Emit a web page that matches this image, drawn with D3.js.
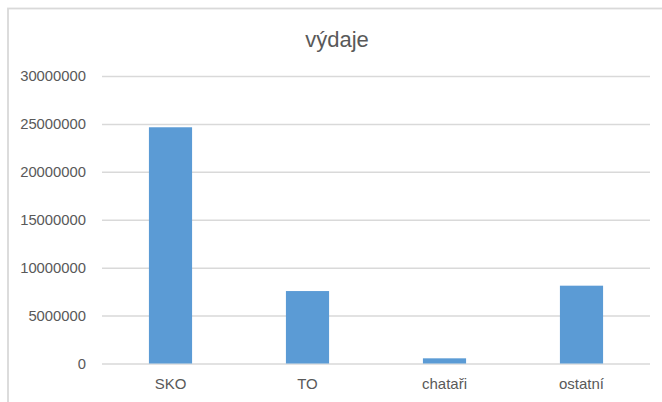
<!DOCTYPE html>
<html>
<head>
<meta charset="utf-8">
<script src="https://cdn.jsdelivr.net/npm/d3@7"></script>
<style>
	body { margin: 0; background: #fff; }
	text { font-family: "Liberation Sans", Arial, sans-serif; fill: #595959; }
	.axis .domain { display: none; }
	.y.axis .tick line { stroke: #d9d9d9; stroke-width: 1.5; }
	.x.axis .tick line { display: none; }
</style>
</head>
<body>
<svg class="chartArea"></svg>
<script>
// chart data
var categories = ["SKO", "TO", "chataři", "ostatní"];
var values = [24650000, 7560000, 540000, 8120000];
var yTicks = [0, 5000000, 10000000, 15000000, 20000000, 25000000, 30000000];
var graphHeader = "výdaje";

function drawGraph(areaID) {

	var svgWidth = 662,
		svgHeight = 402;
	var margin = {top: 76, right: 12, bottom: 38.5, left: 102},
		width = svgWidth - margin.left - margin.right,
		height = svgHeight - margin.top - margin.bottom;

	var svg = d3.select("." + areaID)
		.attr("width", svgWidth)
		.attr("height", svgHeight);

	// outer chart border (only top/left visible in picture)
	svg.append("rect")
		.attr("x", 8)
		.attr("y", 8.5)
		.attr("width", 700)
		.attr("height", 500)
		.attr("fill", "none")
		.attr("stroke", "#d9d9d9")
		.attr("stroke-width", 1.8);

	var chart = svg.append("g")
		.attr("transform", "translate(" + margin.left + "," + margin.top + ")");

	var x = d3.scaleBand()
		.domain(categories)
		.range([0, width])
		.paddingInner(0.685)
		.paddingOuter(0.3425);

	var y = d3.scaleLinear()
		.domain([0, 30000000])
		.range([height, 0]);

	// y axis with gridlines
	chart.append("g")
		.attr("class", "y axis")
		.call(d3.axisLeft(y)
			.tickValues(yTicks)
			.tickSize(-width)
			.tickPadding(16)
			.tickFormat(d3.format("d")))
		.selectAll("text")
			.style("font-size", "14.8px");

	// x axis
	chart.append("g")
		.attr("class", "x axis")
		.attr("transform", "translate(0," + height + ")")
		.call(d3.axisBottom(x).tickSize(0).tickPadding(15))
		.selectAll("text")
			.style("font-size", "15px");

	// bars
	chart.selectAll(".bar")
		.data(values)
	  .enter().append("rect")
		.attr("class", "bar")
		.attr("x", function(d, i) { return x(categories[i]); })
		.attr("y", function(d) { return y(d); })
		.attr("width", x.bandwidth())
		.attr("height", function(d) { return height - y(d); })
		.attr("fill", "#5b9bd5");

	// title
	svg.append("text")
		.attr("x", 337)
		.attr("y", 47)
		.attr("text-anchor", "middle")
		.style("font-size", "22px")
		.text(graphHeader);
}

drawGraph("chartArea");
</script>
</body>
</html>
